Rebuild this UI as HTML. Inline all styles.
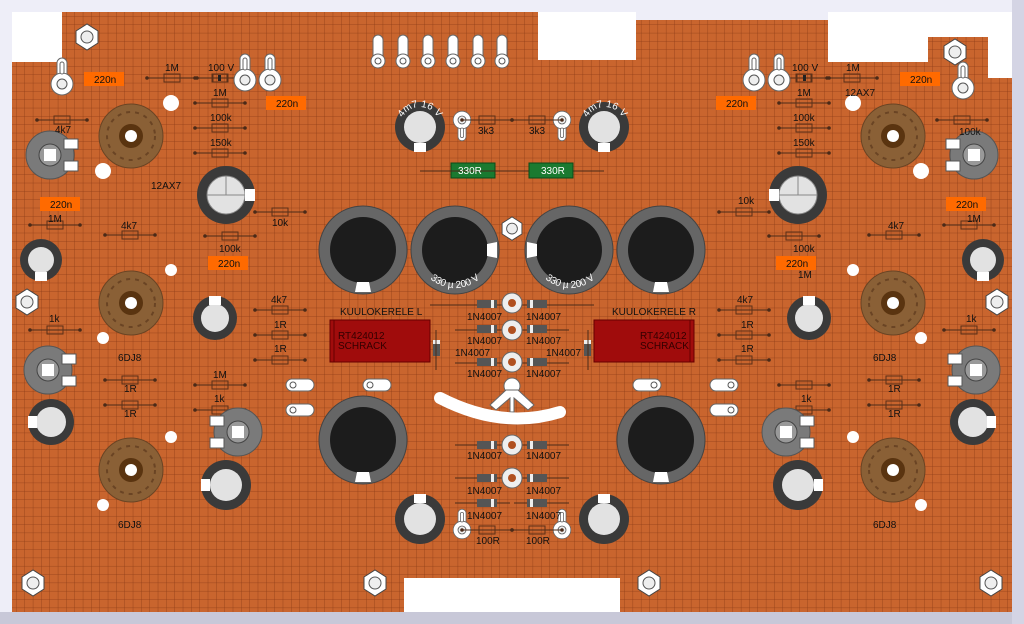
<!DOCTYPE html>
<html><head><meta charset="utf-8"><style>
html,body{margin:0;padding:0;width:1024px;height:624px;overflow:hidden;background:#eeeef8}
svg{display:block}
text{font-family:"Liberation Sans",sans-serif;font-size:10px;fill:#111}
</style></head><body>
<svg width="1024" height="624" viewBox="0 0 1024 624" xmlns="http://www.w3.org/2000/svg">
<defs>
<pattern id="g" width="8.33" height="8.33" patternUnits="userSpaceOnUse">
<path d="M8.33 0V8.33H0" fill="none" stroke="#7a3010" stroke-width="0.8" opacity="0.75"/>
</pattern>
<g id="res"><line x1="-25" y1="0" x2="25" y2="0" stroke="#4a2a18" stroke-width="1"/><circle cx="-25" r="1.8" fill="#4a2a18"/><circle cx="25" r="1.8" fill="#4a2a18"/><rect x="-8" y="-4" width="16" height="8" fill="none" stroke="#5a3018" stroke-width="1"/></g>
<g id="dio"><rect x="-10" y="-4" width="20" height="8" fill="#555"/><rect x="4" y="-4" width="3" height="8" fill="#eee"/></g>
<g id="nut"><polygon points="-11,-6 0,-13 11,-6 11,6 0,13 -11,6" fill="#fff" stroke="#444"/><circle r="6" fill="#eee" stroke="#555"/></g>
<g id="lug"><rect x="-5" y="-26" width="10" height="22" rx="5" fill="#fff" stroke="#666"/><circle r="11" fill="#fff" stroke="#666"/><circle r="5" fill="#eee" stroke="#555"/><rect x="-2" y="-22" width="4" height="12" rx="2" fill="#fff" stroke="#666"/></g>
<g id="tlug"><rect x="-5" y="-10" width="10" height="26" rx="5" fill="#fff" stroke="#666"/><circle cy="16" r="7" fill="#fff" stroke="#666"/><circle cy="16" r="3" fill="#fff" stroke="#555"/></g>
<g id="tube"><circle r="32" fill="#8a6036" stroke="#6a4424"/><circle r="24" fill="none" stroke="#6a4424" stroke-width="2" stroke-dasharray="4 5"/><circle r="12" fill="#5a3410"/><circle r="6" fill="#fff"/></g>
<g id="pot"><circle r="24" fill="#7a7a7a" stroke="#555"/><circle r="11" fill="#999" stroke="#444"/><rect x="-6" y="-6" width="12" height="12" fill="#fff"/><rect x="14" y="-16" width="14" height="10" fill="#fff" stroke="#555"/><rect x="14" y="6" width="14" height="10" fill="#fff" stroke="#555"/></g>
<g id="bigc"><circle r="44" fill="#666" stroke="#444"/><circle r="33" fill="#1c1c1c"/><path d="M-8 42 L8 42 L6 32 L-6 32 Z" fill="#fff"/></g>
<path id="arcT" d="M-20 0 A20 20 0 0 1 20 0"/>
<path id="arcB" d="M-38 0 A38 38 0 0 0 38 0"/>
</defs>
<rect x="0" y="612" width="1024" height="12" fill="#c8c8d8"/>
<rect x="1012" y="0" width="12" height="624" fill="#d4d4e4"/>
<path d="M12 12H538V60H636V20H828V62H928V37H988V78H1012V612H620V578H404V612H12Z" fill="#c9652e"/>
<path d="M12 12H538V60H636V20H828V62H928V37H988V78H1012V612H620V578H404V612H12Z" fill="url(#g)"/>
<rect x="12" y="12" width="50" height="50" fill="#fff"/>
<rect x="538" y="12" width="98" height="48" fill="#fff"/>
<rect x="828" y="12" width="100" height="50" fill="#fff"/>
<rect x="928" y="12" width="84" height="25" fill="#fff"/>
<rect x="988" y="37" width="24" height="41" fill="#fff"/>
<rect x="404" y="578" width="216" height="34" fill="#fff"/>

<g id="L">
<use href="#res" x="172" y="78"/>
<use href="#res" x="220" y="78"/><rect x="213" y="74" width="14" height="8" fill="none" stroke="#5a3018"/><rect x="218" y="75" width="3" height="6" fill="#222"/>
<use href="#res" x="220" y="103"/><use href="#res" x="220" y="128"/><use href="#res" x="220" y="153"/>
<use href="#res" x="62" y="120"/><use href="#res" x="55" y="225"/><use href="#res" x="130" y="235"/>
<use href="#res" x="280" y="212"/><use href="#res" x="230" y="236"/>
<use href="#res" x="280" y="310"/><use href="#res" x="280" y="335"/><use href="#res" x="280" y="360"/>
<use href="#res" x="55" y="330"/><use href="#res" x="130" y="380"/><use href="#res" x="130" y="405"/>
<use href="#res" x="220" y="385"/><use href="#res" x="220" y="410"/>
<use href="#nut" x="27" y="302"/><use href="#nut" x="33" y="583"/><use href="#nut" x="375" y="583"/>
<use href="#lug" x="245" y="80"/><use href="#lug" x="270" y="80"/>
<circle cx="171" cy="103" r="8" fill="#fff"/><circle cx="103" cy="171" r="8" fill="#fff"/>
<circle cx="171" cy="270" r="6" fill="#fff"/><circle cx="103" cy="338" r="6" fill="#fff"/>
<circle cx="171" cy="437" r="6" fill="#fff"/><circle cx="103" cy="505" r="6" fill="#fff"/>
<use href="#tube" x="131" y="136"/><use href="#tube" x="131" y="303"/><use href="#tube" x="131" y="470"/>
<use href="#pot" x="50" y="155"/>
<use href="#pot" x="48" y="370"/>
<g transform="translate(238,432)"><use href="#pot" transform="rotate(180)"/></g>
<g transform="translate(226,195)"><circle r="29" fill="#3a3a3a"/><circle r="19" fill="#e2e2e2" stroke="#888"/><line x1="-19" y1="0" x2="19" y2="0" stroke="#888"/><line x1="0" y1="-19" x2="0" y2="0" stroke="#888"/><rect x="19" y="-6" width="10" height="12" fill="#fff"/></g>
<g transform="translate(41,260)"><circle r="21" fill="#3a3a3a"/><circle r="13" fill="#e2e2e2"/><rect x="-6" y="12" width="12" height="9" fill="#fff"/></g>
<g transform="translate(215,318)"><circle r="22" fill="#3a3a3a"/><circle r="14" fill="#e2e2e2"/><rect x="-6" y="-22" width="12" height="9" fill="#fff"/></g>
<g transform="translate(51,422)"><circle r="23" fill="#3a3a3a"/><circle r="15" fill="#e2e2e2"/><rect x="-23" y="-6" width="9" height="12" fill="#fff"/></g>
<g transform="translate(226,485)"><circle r="25" fill="#3a3a3a"/><circle r="16" fill="#e2e2e2"/><rect x="-25" y="-6" width="9" height="12" fill="#fff"/></g>
<g transform="translate(420,127)"><circle r="25" fill="#3a3a3a"/><circle r="16" fill="#e2e2e2"/><rect x="-6" y="16" width="12" height="9" fill="#fff"/></g>
<g transform="translate(420,519)"><circle r="25" fill="#3a3a3a"/><circle r="16" fill="#e2e2e2"/><rect x="-6" y="-25" width="12" height="9" fill="#fff"/></g>
<use href="#bigc" x="363" y="250"/><use href="#bigc" transform="translate(455,250) rotate(-90)"/>
<use href="#bigc" x="363" y="440"/>
<rect x="330" y="320" width="100" height="42" fill="#a00c0c" stroke="#600"/><line x1="334" y1="320" x2="334" y2="362" stroke="#600"/>
<rect x="433" y="340" width="7" height="16" fill="#555"/><rect x="433" y="340" width="7" height="4" fill="#eee"/>
<use href="#lug" transform="translate(462,120) rotate(180) scale(0.8)"/>
<use href="#lug" transform="translate(462,530) scale(0.8)"/>
<use href="#res" x="487" y="120"/><use href="#res" x="487" y="530"/>
<line x1="420" y1="171" x2="600" y2="171" stroke="#4a2a18"/>
<rect x="451" y="163" width="44" height="15" fill="#1a7a30" stroke="#0a4a18"/>
<g transform="translate(377,385)"><rect x="-14" y="-6" width="28" height="12" rx="6" fill="#fff" stroke="#666"/><circle cx="-7" r="3" fill="#fff" stroke="#555"/></g>
<g transform="translate(300,410)"><rect x="-14" y="-6" width="28" height="12" rx="6" fill="#fff" stroke="#666"/><circle cx="-7" r="3" fill="#fff" stroke="#555"/></g>
<g transform="translate(300,385)"><rect x="-14" y="-6" width="28" height="12" rx="6" fill="#fff" stroke="#666"/><circle cx="-7" r="3" fill="#fff" stroke="#555"/></g>
<line x1="430" y1="305" x2="510" y2="305" stroke="#4a2a18"/><line x1="455" y1="330" x2="510" y2="330" stroke="#4a2a18"/><line x1="455" y1="363" x2="510" y2="363" stroke="#4a2a18"/>
<line x1="455" y1="445" x2="510" y2="445" stroke="#4a2a18"/><line x1="455" y1="478" x2="510" y2="478" stroke="#4a2a18"/><line x1="455" y1="503" x2="510" y2="503" stroke="#4a2a18"/>
<line x1="436" y1="330" x2="436" y2="370" stroke="#4a2a18"/>
<use href="#dio" x="487" y="304"/><use href="#dio" x="487" y="329"/><use href="#dio" x="487" y="362"/>
<use href="#dio" x="487" y="445"/><use href="#dio" x="487" y="478"/><use href="#dio" x="487" y="503"/>
</g>
<use href="#L" transform="translate(1024,0) scale(-1,1)"/>
<use href="#nut" x="87" y="37"/><use href="#nut" x="955" y="52"/>
<use href="#lug" x="62" y="84"/><use href="#lug" x="963" y="88"/>
<use href="#tlug" x="378" y="45"/><use href="#tlug" x="403" y="45"/><use href="#tlug" x="428" y="45"/>
<use href="#tlug" x="453" y="45"/><use href="#tlug" x="478" y="45"/><use href="#tlug" x="502" y="45"/>
<g transform="translate(512,0)">
<use href="#nut" y="254" transform="scale(0.9)"/>
<circle cy="303" r="10" fill="#eee" stroke="#666"/><circle cy="303" r="4" fill="#b05020"/>
<circle cy="330" r="10" fill="#eee" stroke="#666"/><circle cy="330" r="4" fill="#b05020"/>
<circle cy="362" r="10" fill="#eee" stroke="#666"/><circle cy="362" r="4" fill="#b05020"/>
<circle cy="445" r="10" fill="#eee" stroke="#666"/><circle cy="445" r="4" fill="#b05020"/>
<circle cy="478" r="10" fill="#eee" stroke="#666"/><circle cy="478" r="4" fill="#b05020"/>
<circle cy="386" r="8" fill="#fff" stroke="#666"/>
<path d="M-6 390 L-22 405 L-16 410 L-2 398 L-2 412 L2 412 L2 398 L16 410 L22 405 L6 390 Z" fill="#fff" stroke="#666"/>
<path d="M-72 398 Q-10 430 48 412" fill="none" stroke="#fff" stroke-width="12" stroke-linecap="round"/>
</g>
<g font-size="10">
<rect x="84" y="72" width="40" height="14" fill="#ff6a00"/><text x="94" y="83">220n</text>
<rect x="266" y="96" width="40" height="14" fill="#ff6a00"/><text x="276" y="107">220n</text>
<rect x="40" y="197" width="40" height="14" fill="#ff6a00"/><text x="50" y="208">220n</text>
<rect x="208" y="256" width="40" height="14" fill="#ff6a00"/><text x="218" y="267">220n</text>
<rect x="716" y="96" width="40" height="14" fill="#ff6a00"/><text x="726" y="107">220n</text>
<rect x="900" y="72" width="40" height="14" fill="#ff6a00"/><text x="910" y="83">220n</text>
<rect x="946" y="197" width="40" height="14" fill="#ff6a00"/><text x="956" y="208">220n</text>
<rect x="776" y="256" width="40" height="14" fill="#ff6a00"/><text x="786" y="267">220n</text>
<text x="458" y="174" style="fill:#fff">330R</text><text x="541" y="174" style="fill:#fff">330R</text>
<text x="165" y="71">1M</text><text x="208" y="71">100 V</text><text x="213" y="96">1M</text><text x="210" y="121">100k</text><text x="210" y="146">150k</text>
<text x="55" y="133">4k7</text><text x="48" y="222">1M</text><text x="121" y="229">4k7</text><text x="272" y="226">10k</text><text x="219" y="252">100k</text>
<text x="271" y="303">4k7</text><text x="274" y="328">1R</text><text x="274" y="352">1R</text><text x="49" y="322">1k</text>
<text x="124" y="392">1R</text><text x="124" y="417">1R</text><text x="213" y="378">1M</text><text x="214" y="402">1k</text>
<text x="478" y="134">3k3</text><text x="529" y="134">3k3</text><text x="476" y="544">100R</text><text x="526" y="544">100R</text>
<text x="151" y="189" font-size="12">12AX7</text><text x="118" y="361" font-size="12">6DJ8</text><text x="118" y="528" font-size="12">6DJ8</text>
<text x="845" y="96" font-size="12">12AX7</text><text x="873" y="361" font-size="12">6DJ8</text><text x="873" y="528" font-size="12">6DJ8</text>
<text x="792" y="71">100 V</text><text x="846" y="71">1M</text><text x="797" y="96">1M</text><text x="793" y="121">100k</text><text x="793" y="146">150k</text>
<text x="959" y="135">100k</text><text x="967" y="222">1M</text><text x="888" y="229">4k7</text><text x="738" y="204">10k</text><text x="793" y="252">100k</text>
<text x="737" y="303">4k7</text><text x="741" y="328">1R</text><text x="741" y="352">1R</text><text x="966" y="322">1k</text>
<text x="888" y="392">1R</text><text x="888" y="417">1R</text><text x="798" y="278">1M</text><text x="801" y="402">1k</text>
<text x="340" y="315">KUULOKERELE L</text><text x="612" y="315">KUULOKERELE R</text>
<text x="338" y="339" style="fill:#300">RT424012</text><text x="338" y="349" style="fill:#300">SCHRACK</text>
<text x="640" y="339" style="fill:#300">RT424012</text><text x="640" y="349" style="fill:#300">SCHRACK</text>
<text x="467" y="320">1N4007</text><text x="526" y="320">1N4007</text>
<text x="467" y="344">1N4007</text><text x="526" y="344">1N4007</text>
<text x="455" y="356">1N4007</text><text x="546" y="356">1N4007</text>
<text x="467" y="377">1N4007</text><text x="526" y="377">1N4007</text>
<text x="467" y="459">1N4007</text><text x="526" y="459">1N4007</text>
<text x="467" y="494">1N4007</text><text x="526" y="494">1N4007</text>
<text x="467" y="519">1N4007</text><text x="526" y="519">1N4007</text>
<g font-size="8">
<g transform="translate(420,127)"><text style="fill:#fff" font-size="8"><textPath href="#arcT" startOffset="50%" text-anchor="middle">4m7 16 V</textPath></text></g>
<g transform="translate(605,127)"><text style="fill:#fff" font-size="8"><textPath href="#arcT" startOffset="50%" text-anchor="middle">4m7 16 V</textPath></text></g>
<g transform="translate(455,250)"><text style="fill:#fff" font-size="9"><textPath href="#arcB" startOffset="50%" text-anchor="middle">330 µ 200 V</textPath></text></g>
<g transform="translate(570,250)"><text style="fill:#fff" font-size="9"><textPath href="#arcB" startOffset="50%" text-anchor="middle">330 µ 200 V</textPath></text></g>
</g>
</g>
</svg>
</body></html>
